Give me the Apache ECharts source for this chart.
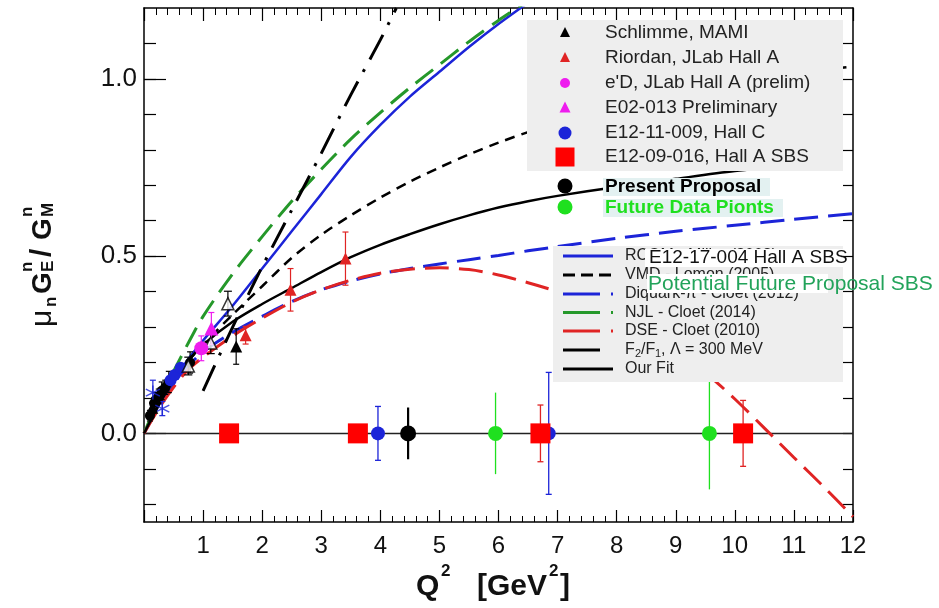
<!DOCTYPE html>
<html><head><meta charset="utf-8">
<script src="https://cdn.jsdelivr.net/npm/echarts@6/dist/echarts.min.js"></script>
<style>html,body{margin:0;padding:0;background:#fff}#c{width:939px;height:608px}</style>
</head><body><div id="c"></div>
<script>
// ---------- data ----------
const xTickLabels = [1,2,3,4,5,6,7,8,9,10,11,12];
const yMajorTicks = [0, 0.5, 1.0];
const yMinorTicks = [-0.2,-0.1,0,0.1,0.2,0.3,0.4,0.5,0.6,0.7,0.8,0.9,1.0,1.1];

const rcqmQ = [0,0.25,0.5,0.75,1,1.5,2,2.5,3,3.5,4,4.5,5,5.5,6,6.5];
const rcqmV = [0,0.08,0.15,0.21,0.262,0.36,0.465,0.57,0.675,0.78,0.87,0.95,1.02,1.09,1.155,1.215];

const njlQ = [0,0.25,0.5,0.75,1,1.5,2,2.5,3,3.5,4,4.5,5,5.5,6,6.5];
const njlV = [0,0.095,0.175,0.255,0.33,0.45,0.555,0.655,0.745,0.83,0.905,0.975,1.04,1.105,1.165,1.22];

const curveQ = [0,0.25,0.5,0.75,1,1.5,2,2.5,3,3.5,4,4.5,5,5.5,6,6.5,7,8,9,10,11,12];
const vmdV  = [0,0.08,0.15,0.205,0.25,0.335,0.415,0.495,0.56,0.615,0.665,0.71,0.75,0.787,0.82,0.85,0.877,0.925,0.962,0.993,1.017,1.035];

const fitQ  = [0,0.25,0.5,0.75,1,1.5,2,2.5,3,3.5,4,4.5,5,5.5,6,6.5,7,8,9,10,11,11.5];
const fitV  = [0,0.08,0.15,0.205,0.25,0.315,0.365,0.41,0.455,0.497,0.532,0.562,0.59,0.615,0.637,0.655,0.67,0.695,0.718,0.74,0.757,0.764];
const diqV  = [0,0.075,0.14,0.19,0.23,0.285,0.33,0.372,0.405,0.43,0.45,0.465,0.478,0.49,0.502,0.515,0.527,0.55,0.57,0.587,0.604,0.62];

const dseQ = [0,0.25,0.5,0.75,1,1.5,2,2.5,3,3.5,4,4.5,5,5.5,6,6.5,7,7.5,8,8.5,9,9.5,10,10.5,11,11.5,12];
const dseV = [0,0.07,0.13,0.18,0.215,0.275,0.325,0.37,0.405,0.432,0.452,0.463,0.467,0.462,0.447,0.425,0.40,0.37,0.333,0.29,0.237,0.172,0.097,0.015,-0.068,-0.15,-0.235];

const f2f1Q = [1.0,1.5,2,2.5,3,3.5,4,4.27];
const f2f1V = [0.12,0.30,0.47,0.63,0.79,0.955,1.11,1.2];

const zeroQ = [0, 12];
const zeroV = [0, 0];

// [Q2, value, error]
const schlimme = [[1.56,0.245,0.05],[0.14,0.072,0.015]];
const riordan  = [[1.72,0.277,0.025],[2.48,0.405,0.06],[3.41,0.493,0.075]];
const eD       = [[0.97,0.24,0.035]];
const e02013   = [[1.14,0.296,0.045]];
const e1211009 = [[3.96,0,0.076],[6.85,0,0.172]];
const e1209016 = [[1.44,0,0],[3.62,0,0],[6.71,0,0.08],[10.14,0,0.093]];
const present  = [[4.47,0,0.073]];
const future   = [[5.95,0,0.115],[9.57,0,0.158]];
const otherBlack = [[0.1,0.05,0.015],[0.17,0.085,0.015],[0.2,0.095,0.02],[0.25,0.105,0.02],[0.3,0.12,0.025],[0.36,0.13,0.02],[0.42,0.145,0.03],[0.78,0.2,0.03]];
const otherBlue  = [[0.45,0.15,0.02],[0.52,0.165,0.02],[0.62,0.185,0.02]];
const openTri    = [[0.75,0.19,0.025],[1.13,0.255,0.03],[1.42,0.366,0.035]];
const stars      = [[0.15,0.115,0.035],[0.31,0.07,0.02]];

// ---------- styling ----------
const FONT = 'Liberation Sans, Arial, Helvetica, sans-serif';
const BLUE = '#1c24d8', GREEN = '#25982a', RED = '#e02424', MAG = '#ee1cee', FGREEN = '#1fe01f';

const zip = (q, v) => q.map((x, i) => [x, v[i]]);

function lineS(name, q, v, color, width, type) {
  return {type:'line', name, data: zip(q, v), symbol:'none', showSymbol:false, smooth:0.3,
    lineStyle:{color, width, type, cap:'butt'}, z:2, clip:true, silent:true};
}
function errS(data, color, cap, width) {
  return {type:'custom', data, z:3, silent:true, clip:true, encode:{x:0, y:1},
    renderItem:(p, api) => {
      const x = api.value(0), y = api.value(1), e = api.value(2);
      if (!e) return null;
      const a = api.coord([x, y + e]), b = api.coord([x, y - e]);
      const st = {stroke:color, lineWidth:width};
      const ch = [{type:'line', shape:{x1:a[0], y1:a[1], x2:b[0], y2:b[1]}, style:st}];
      if (cap) {
        ch.push({type:'line', shape:{x1:a[0]-cap, y1:a[1], x2:a[0]+cap, y2:a[1]}, style:st});
        ch.push({type:'line', shape:{x1:b[0]-cap, y1:b[1], x2:b[0]+cap, y2:b[1]}, style:st});
      }
      return {type:'group', children:ch};
    }};
}
function scatS(name, data, symbol, size, color, extra) {
  return Object.assign({type:'scatter', name, data: data.map(d => [d[0], d[1]]), symbol, symbolSize:size,
    itemStyle:{color, opacity:1}, z:4, silent:true}, extra || {});
}

const STAR = 'path://M0,-10L0,10M-8.7,-5L8.7,5M-8.7,5L8.7,-5';

const series = [
  lineS('zero', zeroQ, zeroV, '#222', 1.5, 'solid'),
  lineS('RCQM - Miller (2002)', rcqmQ, rcqmV, BLUE, 2.5, 'solid'),
  lineS('VMD - Lomon (2005)', curveQ, vmdV, '#000', 2.5, [10, 7]),
  lineS('Diquark-π - Cloet (2012)', curveQ, diqV, BLUE, 3, [24, 10]),
  lineS('NJL - Cloet (2014)', njlQ, njlV, GREEN, 3, [22, 10]),
  lineS('DSE - Cloet (2010)', dseQ, dseV, RED, 3, [24, 10]),
  lineS('F2/F1, Λ = 300 MeV', f2f1Q, f2f1V, '#000', 3, [28, 11, 3, 11]),
  lineS('Our Fit', fitQ, fitV, '#000', 2.5, 'solid'),

  errS(otherBlack, '#000', 3, 1.2),
  errS(stars, BLUE, 3, 1.2),
  errS(openTri, '#000', 4, 1.2),
  errS(schlimme, '#000', 3, 1.2),
  errS(riordan, RED, 3, 1.2),
  errS(eD, MAG, 3, 1.2),
  errS(e02013, MAG, 3, 1.2),
  errS(e1211009, BLUE, 3, 1.3),
  errS(e1209016, RED, 3, 1.3),
  errS(present, '#000', 0, 2.2),
  errS(future, FGREEN, 0, 1.3),

  scatS('other', otherBlack, 'circle', 10, '#000'),
  scatS('otherBlue', otherBlue, 'circle', 12, BLUE),
  scatS('stars', stars, STAR, 14, 'none', {itemStyle:{color:'none', borderColor:BLUE, borderWidth:1.5}}),
  scatS('openTri', openTri, 'triangle', 12, '#fff', {itemStyle:{color:'#fff', borderColor:'#000', borderWidth:1.5}}),
  scatS('Schlimme, MAMI', schlimme, 'triangle', 12, '#000'),
  scatS('Riordan, JLab Hall A', riordan, 'triangle', 12, RED),
  scatS("e'D, JLab Hall A (prelim)", eD, 'circle', 14, MAG),
  scatS('E02-013 Preliminary', e02013, 'triangle', 14, MAG),
  scatS('E12-11-009, Hall C', e1211009, 'circle', 14, BLUE),
  scatS('E12-09-016, Hall A SBS', e1209016, 'rect', 20, '#f00'),
  scatS('Present Proposal', present, 'circle', 16, '#000'),
  scatS('Future Data Pionts', future, 'circle', 15, FGREEN)
];

// ---------- legend & titles (graphic) ----------
const G = [];
const Z = 100;
function txt(x, y, s, size, opts) {
  return Object.assign({type:'text', x, y, z:Z, silent:true,
    style:Object.assign({text:s, fontSize:size, fontFamily:FONT, fill:'#222', verticalAlign:'middle', align:'left'}, (opts||{}))});
}
function tri(cx, cy, s, fill) {
  return {type:'polygon', z:Z, silent:true, shape:{points:[[cx, cy - s*0.6], [cx - s/2, cy + s*0.4], [cx + s/2, cy + s*0.4]]}, style:{fill}};
}
function circ(cx, cy, r, fill) { return {type:'circle', z:Z, silent:true, shape:{cx, cy, r}, style:{fill}}; }

// legend box A (markers)
G.push({type:'rect', z:Z-1, silent:true, shape:{x:527, y:20, width:316, height:151}, style:{fill:'#eeeeee'}});
const rowA = [33, 58, 83, 108, 133, 157];
const namesA = ['Schlimme, MAMI', 'Riordan, JLab Hall A', "e'D, JLab Hall A (prelim)", 'E02-013 Preliminary', 'E12-11-009, Hall C', 'E12-09-016, Hall A SBS'];
G.push(tri(565, rowA[0], 10, '#000'));
G.push(tri(565, rowA[1], 10, RED));
G.push(circ(565, rowA[2], 5, MAG));
G.push(tri(565, rowA[3], 11, MAG));
G.push(circ(565, rowA[4], 6.5, BLUE));
G.push({type:'rect', z:Z, silent:true, shape:{x:555.5, y:rowA[5]-9.5, width:19, height:19}, style:{fill:'#f00'}});
namesA.forEach((n, i) => G.push(txt(605, rowA[i], n, 19)));

// present / future
G.push({type:'rect', z:Z-1, silent:true, shape:{x:603, y:178, width:167, height:18}, style:{fill:'#e3f1f1'}});
G.push({type:'rect', z:Z-1, silent:true, shape:{x:603, y:199, width:180, height:18}, style:{fill:'#e3f1f1'}});
G.push(circ(565, 186, 7.5, '#000'));
G.push(circ(565, 207, 7.5, FGREEN));
G.push(txt(605, 187, 'Present Proposal', 19, {fontWeight:'bold', fill:'#000'}));
G.push(txt(605, 208, 'Future Data Pionts', 19, {fontWeight:'bold', fill:FGREEN}));

// legend box C (lines)
G.push({type:'rect', z:Z-1, silent:true, shape:{x:553, y:246, width:290, height:136}, style:{fill:'#eeeeee'}});
const rowC = [256, 275, 294, 312.5, 331, 350, 369];
const lineIcons = [
  {c:BLUE, d:null, x2:613}, {c:'#000', d:[12,6], x2:613}, {c:BLUE, d:[37,11], x2:613},
  {c:GREEN, d:[37,11], x2:613}, {c:RED, d:[37,11], x2:613}, {c:'#000', d:null, x2:600}, {c:'#000', d:null, x2:613}
];
lineIcons.forEach((ic, i) => G.push({type:'line', z:Z, silent:true,
  shape:{x1:563, y1:rowC[i], x2:ic.x2, y2:rowC[i]}, style:{stroke:ic.c, lineWidth:3, lineDash:ic.d || null}}));
const namesC = ['RCQM - Miller (2002)', 'VMD - Lomon (2005)', 'Diquark-π - Cloet (2012)', 'NJL - Cloet (2014)', 'DSE - Cloet (2010)'];
namesC.forEach((n, i) => G.push(txt(625, rowC[i], n, 16)));
// F2/F1 row with subscripts
G.push(txt(625, rowC[5], 'F', 16));
G.push(txt(635, rowC[5] + 4, '2', 11));
G.push(txt(641, rowC[5], '/F', 16));
G.push(txt(655, rowC[5] + 4, '1', 11));
G.push(txt(661, rowC[5], ', Λ = 300 MeV', 16));
G.push(txt(625, rowC[6], 'Our Fit', 16));

// overlay texts
G.push({type:'rect', z:Z+1, silent:true, shape:{x:645, y:249, width:198, height:18}, style:{fill:'#fff'}});
G.push(Object.assign(txt(649, 258, 'E12-17-004 Hall A SBS', 19, {fill:'#111'}), {z:Z+2}));
G.push({type:'rect', z:Z+1, silent:true, shape:{x:647, y:274, width:181, height:19}, style:{fill:'#fff'}});
G.push(Object.assign(txt(648, 284, 'Potential Future Proposal SBS', 21, {fill:'#22a35a'}), {z:Z+2}));

// y-axis title (rotated)
const yt = [];
const B = 'bold';
yt.push({type:'text', x:3, y:-9, style:{text:'μ', fontSize:30, fontFamily:FONT, fill:'#111', verticalAlign:'middle'}});
yt.push({type:'text', x:23, y:-1, style:{text:'n', fontSize:17, fontWeight:B, fontFamily:FONT, fill:'#111', verticalAlign:'middle'}});
yt.push({type:'text', x:36, y:-9, style:{text:'G', fontSize:28, fontWeight:B, fontFamily:FONT, fill:'#111', verticalAlign:'middle'}});
yt.push({type:'text', x:58, y:-25, style:{text:'n', fontSize:17, fontWeight:B, fontFamily:FONT, fill:'#111', verticalAlign:'middle'}});
yt.push({type:'text', x:58, y:-4, style:{text:'E', fontSize:17, fontWeight:B, fontFamily:FONT, fill:'#111', verticalAlign:'middle'}});
yt.push({type:'text', x:73, y:-9, style:{text:'/', fontSize:30, fontWeight:B, fontFamily:FONT, fill:'#111', verticalAlign:'middle'}});
yt.push({type:'text', x:90, y:-9, style:{text:'G', fontSize:28, fontWeight:B, fontFamily:FONT, fill:'#111', verticalAlign:'middle'}});
yt.push({type:'text', x:113, y:-25, style:{text:'n', fontSize:17, fontWeight:B, fontFamily:FONT, fill:'#111', verticalAlign:'middle'}});
yt.push({type:'text', x:113, y:-4, style:{text:'M', fontSize:17, fontWeight:B, fontFamily:FONT, fill:'#111', verticalAlign:'middle'}});
G.push({type:'group', x:52, y:330, rotation:Math.PI/2, z:Z, silent:true, children:yt});

// x-axis title
G.push(txt(416, 587, 'Q', 30, {fontWeight:'bold', fill:'#111'}));
G.push(txt(441, 571, '2', 17, {fontWeight:'bold', fill:'#111'}));
G.push(txt(477, 587, '[GeV', 30, {fontWeight:'bold', fill:'#111'}));
G.push(txt(549, 571, '2', 17, {fontWeight:'bold', fill:'#111'}));
G.push(txt(560, 587, ']', 30, {fontWeight:'bold', fill:'#111'}));

// ---------- axes ----------
const axLine = {show:true, onZero:false, lineStyle:{color:'#000', width:1.5}};
const option = {
  animation:false,
  backgroundColor:'#fff',
  grid:{left:144, right:86, top:8, bottom:86},
  xAxis:[
    {type:'value', min:0, max:12, interval:1, position:'bottom', axisLine:axLine,
     axisTick:{show:true, inside:true, length:12, lineStyle:{color:'#000', width:1.2}},
     minorTick:{show:true, splitNumber:5, length:6, lineStyle:{color:'#000', width:1}},
     axisLabel:{customValues:xTickLabels, fontSize:24, color:'#111', margin:12, fontFamily:FONT},
     splitLine:{show:false}, minorSplitLine:{show:false}},
    {type:'value', min:0, max:12, interval:1, position:'top', axisLine:axLine,
     axisTick:{show:true, inside:true, length:13, lineStyle:{color:'#000', width:1.2}},
     minorTick:{show:true, splitNumber:5, length:7, lineStyle:{color:'#000', width:1}},
     axisLabel:{show:false}, splitLine:{show:false}}
  ],
  yAxis:[
    {type:'value', min:-0.25, max:1.2, position:'left', axisLine:axLine,
     axisTick:{show:true, inside:true, length:22, customValues:yMajorTicks, lineStyle:{color:'#000', width:1.2}},
     axisLabel:{customValues:yMajorTicks, formatter:v => Number(v).toFixed(1), fontSize:26, color:'#111', margin:7, fontFamily:FONT},
     splitLine:{show:false}},
    {type:'value', min:-0.25, max:1.2, position:'left', axisLine:{show:false},
     axisTick:{show:true, inside:true, length:12, customValues:yMinorTicks, lineStyle:{color:'#000', width:1.2}},
     axisLabel:{show:false}, splitLine:{show:false}},
    {type:'value', min:-0.25, max:1.2, position:'right', axisLine:axLine,
     axisTick:{show:true, inside:true, length:10, customValues:yMinorTicks, lineStyle:{color:'#000', width:1.2}},
     axisLabel:{show:false}, splitLine:{show:false}}
  ],
  series,
  graphic:G
};
const chart = echarts.init(document.getElementById('c'), null, {renderer:'canvas'});
chart.setOption(option);
</script>
</body></html>
